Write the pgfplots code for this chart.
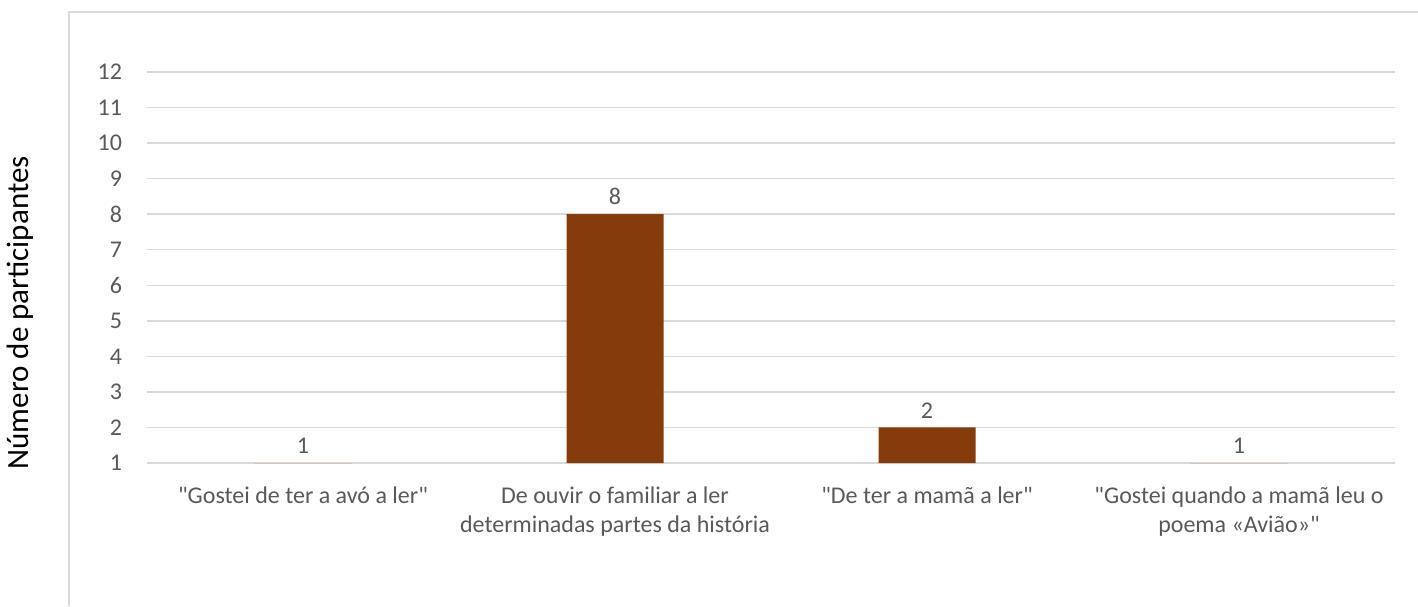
\documentclass[border=0pt]{standalone}
\usepackage{fontspec}
\setmainfont{Carlito}
\usepackage{pgfplots}
\pgfplotsset{compat=1.18}
\definecolor{barc}{HTML}{843C0C}
\definecolor{gridc}{HTML}{D9D9D9}
\definecolor{txtc}{HTML}{595959}
\begin{document}
\begin{tikzpicture}
\useasboundingbox (0,0) rectangle (709pt,303pt);
\draw[gridc, line width=0.75pt] (34.5pt,0) -- (34.5pt,297pt) -- (709pt,297pt);
\begin{axis}[
  at={(73.5pt,71.5pt)}, anchor=south west,
  scale only axis, width=624pt, height=195.5pt,
  ybar, bar width=48.5pt,
  xmin=-0.5, xmax=3.5, ymin=1, ymax=12,
  xtick=data,
  xticklabels={{\textquotedbl Gostei de ter a avó a ler\textquotedbl},{De ouvir o familiar a ler\\determinadas partes da história},{\textquotedbl De ter a mamã a ler\textquotedbl},{\textquotedbl Gostei quando a mamã leu o\\poema «Avião»\textquotedbl}},
  x tick label style={align=center, font=\fontsize{12}{14.2}\selectfont, text=txtc, yshift=-8.5pt},
  ytick={1,2,...,12},
  y tick label style={font=\fontsize{12}{14}\selectfont, text=txtc, xshift=-9pt},
  /pgf/number format/assume math mode=true,
  ymajorgrids, grid style={gridc, line width=0.75pt},
  axis line style={draw=none},
  axis x line*=bottom,
  extra y ticks={1}, extra y tick labels={}, extra y tick style={grid=major},
  major tick length=0pt,
  nodes near coords,
  nodes near coords style={font=\fontsize{12}{14}\selectfont, text=txtc, yshift=1pt},
  ylabel={Número de participantes},
  ylabel style={font=\fontsize{15.5}{18}\selectfont, text=black, at={(axis description cs:-0.1018,0.384)}, anchor=center, rotate=0},
  clip=false,
]
\addplot[fill=barc, draw=none] coordinates {(0,1) (1,8) (2,2) (3,1)};
\end{axis}
\end{tikzpicture}
\end{document}
